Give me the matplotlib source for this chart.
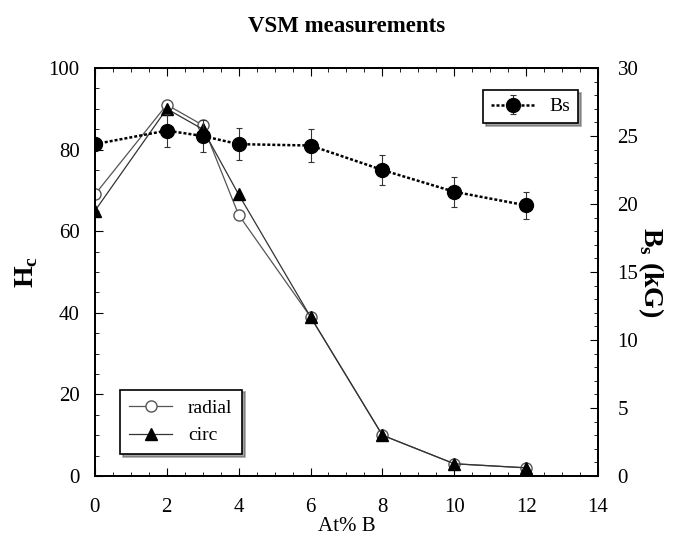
import matplotlib.pyplot as plt
from matplotlib.ticker import MultipleLocator

plt.rcParams['font.family'] = ['Liberation Serif', 'DejaVu Serif']

at_b = [0, 2, 3, 4, 6, 8, 10, 12]
hc_radial = [69, 91, 86, 64, 39, 10, 3, 2]
hc_circ = [65, 90, 85, 69, 39, 10, 3, 2]
bs = [24.4, 25.4, 25.0, 24.4, 24.3, 22.5, 20.9, 19.9]
bs_err = [0, 1.2, 1.2, 1.2, 1.2, 1.1, 1.1, 1.0]

fig = plt.figure(figsize=(6.78, 5.44), dpi=100)
ax = fig.add_axes([0.140, 0.125, 0.742, 0.750])
ax2 = ax.twinx()

ax.plot(at_b, hc_radial, color='#555555', lw=0.9, marker='o', ms=8,
        mfc='white', mec='#555555', mew=1.0, label='radial')
ax.plot(at_b, hc_circ, color='#333333', lw=0.9, marker='^', ms=8,
        mfc='black', mec='black', label='circ')

ax2.errorbar(at_b, bs, yerr=bs_err, color='black', lw=1.8, ls=(0, (1.2, 0.8)),
             marker='o', ms=10, mfc='black', ecolor='#333333', elinewidth=0.8,
             capsize=2, capthick=0.8, label='Bs')

ax.set_xlim(0, 14)
ax.set_ylim(0, 100)
ax2.set_ylim(0, 30)
ax.xaxis.set_major_locator(MultipleLocator(2))
ax.xaxis.set_minor_locator(MultipleLocator(0.5))
ax.yaxis.set_major_locator(MultipleLocator(20))
ax.yaxis.set_minor_locator(MultipleLocator(5))
ax2.yaxis.set_major_locator(MultipleLocator(5))
ax2.yaxis.set_minor_locator(MultipleLocator(1))

ax.tick_params(which='both', direction='in', top=True, labelsize=15)
ax.tick_params(which='major', length=6)
ax.tick_params(which='minor', length=3)
ax.tick_params(axis='x', pad=16)
ax.tick_params(axis='y', pad=11)
ax2.tick_params(which='both', direction='in', labelsize=15, pad=14)
ax2.tick_params(which='major', length=6)
ax2.tick_params(which='minor', length=3)
for a in (ax, ax2):
    for s in a.spines.values():
        s.set_linewidth(1.3)

ax.set_xlabel('At% B', fontsize=15, labelpad=0)
ax.set_ylabel('H$_\\mathregular{c}$', fontsize=20, fontweight='bold', labelpad=6)
ax2.set_ylabel('B$_\\mathregular{s}$ (kG)', fontsize=20, fontweight='bold',
               rotation=-90, labelpad=20)
ax.set_title('VSM measurements', fontsize=16.5, fontweight='bold', pad=26)

leg1 = ax.legend(loc='lower left', bbox_to_anchor=(0.03, 0.03), fontsize=14,
                 shadow=True, fancybox=False, edgecolor='black', framealpha=1,
                 handlelength=2.2, borderpad=0.5)
leg1.get_frame().set_linewidth(1.2)
leg2 = ax2.legend(loc='upper right', bbox_to_anchor=(0.98, 0.97), fontsize=14,
                  shadow=True, fancybox=False, edgecolor='black', framealpha=1,
                  handlelength=2.2, borderpad=0.4)
leg2.get_frame().set_linewidth(1.2)

fig.savefig('out.png', dpi=100)
